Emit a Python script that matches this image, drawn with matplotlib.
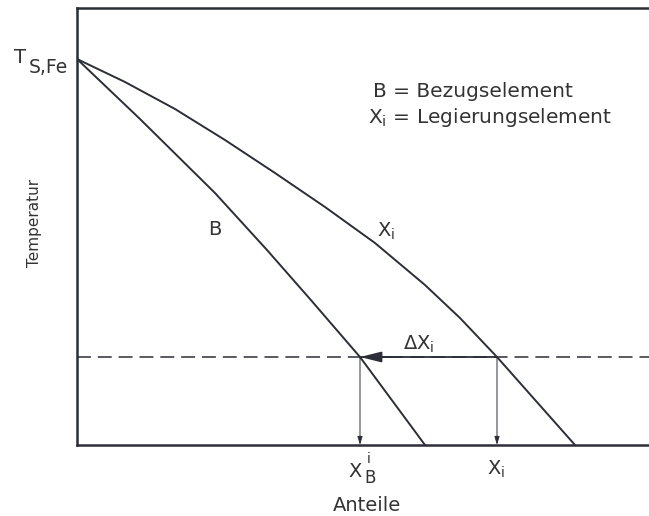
"""Schematic solidus curves: reference element vs. alloying element."""

import matplotlib.pyplot as plt

# composition (Anteile) and temperature, arbitrary units
anteil_b = [0, 63, 138, 190, 233, 283, 348]
temp_b = [386, 326, 252, 195, 146, 88, 0]

anteil_xi = [0, 48, 98, 148, 198, 248, 298, 348, 383, 420, 498]
temp_xi = [386, 363, 336, 305, 272, 238, 202, 160, 127, 88, 0]

t_level = 88
x_b_at_level = 283
x_xi_at_level = 420

line_col = "#2b2e36"
text_col = "#333333"

plt.rcParams["font.family"] = "DejaVu Sans"
plt.rcParams["mathtext.fontset"] = "dejavusans"
plt.rcParams["lines.scale_dashes"] = False

fig = plt.figure(figsize=(6.49, 5.16), dpi=100)
ax = fig.add_axes([77 / 649, 71 / 516, 572 / 649, 437 / 516])
ax.set_xlim(0, 572)
ax.set_ylim(0, 437)
ax.set_xticks([])
ax.set_yticks([])
ax.spines["right"].set_visible(False)
for s in ("left", "top", "bottom"):
    ax.spines[s].set_linewidth(1.8)
    ax.spines[s].set_color(line_col)

# solidus curves
ax.plot(anteil_b, temp_b, color=line_col, lw=1.4, solid_joinstyle="round")
ax.plot(anteil_xi, temp_xi, color=line_col, lw=1.4, solid_joinstyle="round")

# isotherm
ax.plot([0, 572], [t_level, t_level], color=line_col, lw=1.1, dashes=(10, 5))
ax.plot([x_b_at_level, x_xi_at_level], [t_level, t_level], color=line_col, lw=1.3)
ax.annotate("", xy=(x_b_at_level, t_level), xytext=(x_b_at_level + 30, t_level),
            arrowprops=dict(arrowstyle="-|>,head_length=0.8,head_width=0.2",
                            mutation_scale=16, color=line_col, lw=1.3,
                            shrinkA=0, shrinkB=0))

# drop lines to the composition axis
for xv in (x_b_at_level, x_xi_at_level):
    ax.annotate("", xy=(xv, 0), xytext=(xv, t_level),
                arrowprops=dict(arrowstyle="-|>,head_length=0.5,head_width=0.15",
                                mutation_scale=10, color=line_col, lw=0.7,
                                shrinkA=0, shrinkB=0))

kw = dict(color=text_col, clip_on=False, va="baseline")
ax.text(-63, 382, "T", ha="left", fontsize=14, **kw)
ax.text(-48, 372, "S,Fe", ha="left", fontsize=13.5, **kw)
ax.text(296, 348, "B = Bezugselement", ha="left", fontsize=14.5, **kw)
ax.text(291, 322, r"X$_{\mathrm{i}}$ = Legierungselement", ha="left", fontsize=14.5, **kw)
ax.text(131, 210, "B", ha="left", fontsize=14, **kw)
ax.text(300, 208, r"X$_{\mathrm{i}}$", ha="left", fontsize=14, **kw)
ax.text(326, 95, r"$\Delta$X$_{\mathrm{i}}$", ha="left", fontsize=14, **kw)
ax.text(271, -32, "X", ha="left", fontsize=14, **kw)
ax.text(287, -38, "B", ha="left", fontsize=12, **kw)
ax.text(290, -18, "i", ha="left", fontsize=10, **kw)
ax.text(410, -30, r"X$_{\mathrm{i}}$", ha="left", fontsize=14, **kw)
ax.text(290, -66, "Anteile", ha="center", fontsize=14, **kw)
ax.text(-42, 222, "Temperatur", ha="center", rotation=90, fontsize=11,
        color=text_col, clip_on=False, va="center")

fig.savefig("out.png", dpi=100)
